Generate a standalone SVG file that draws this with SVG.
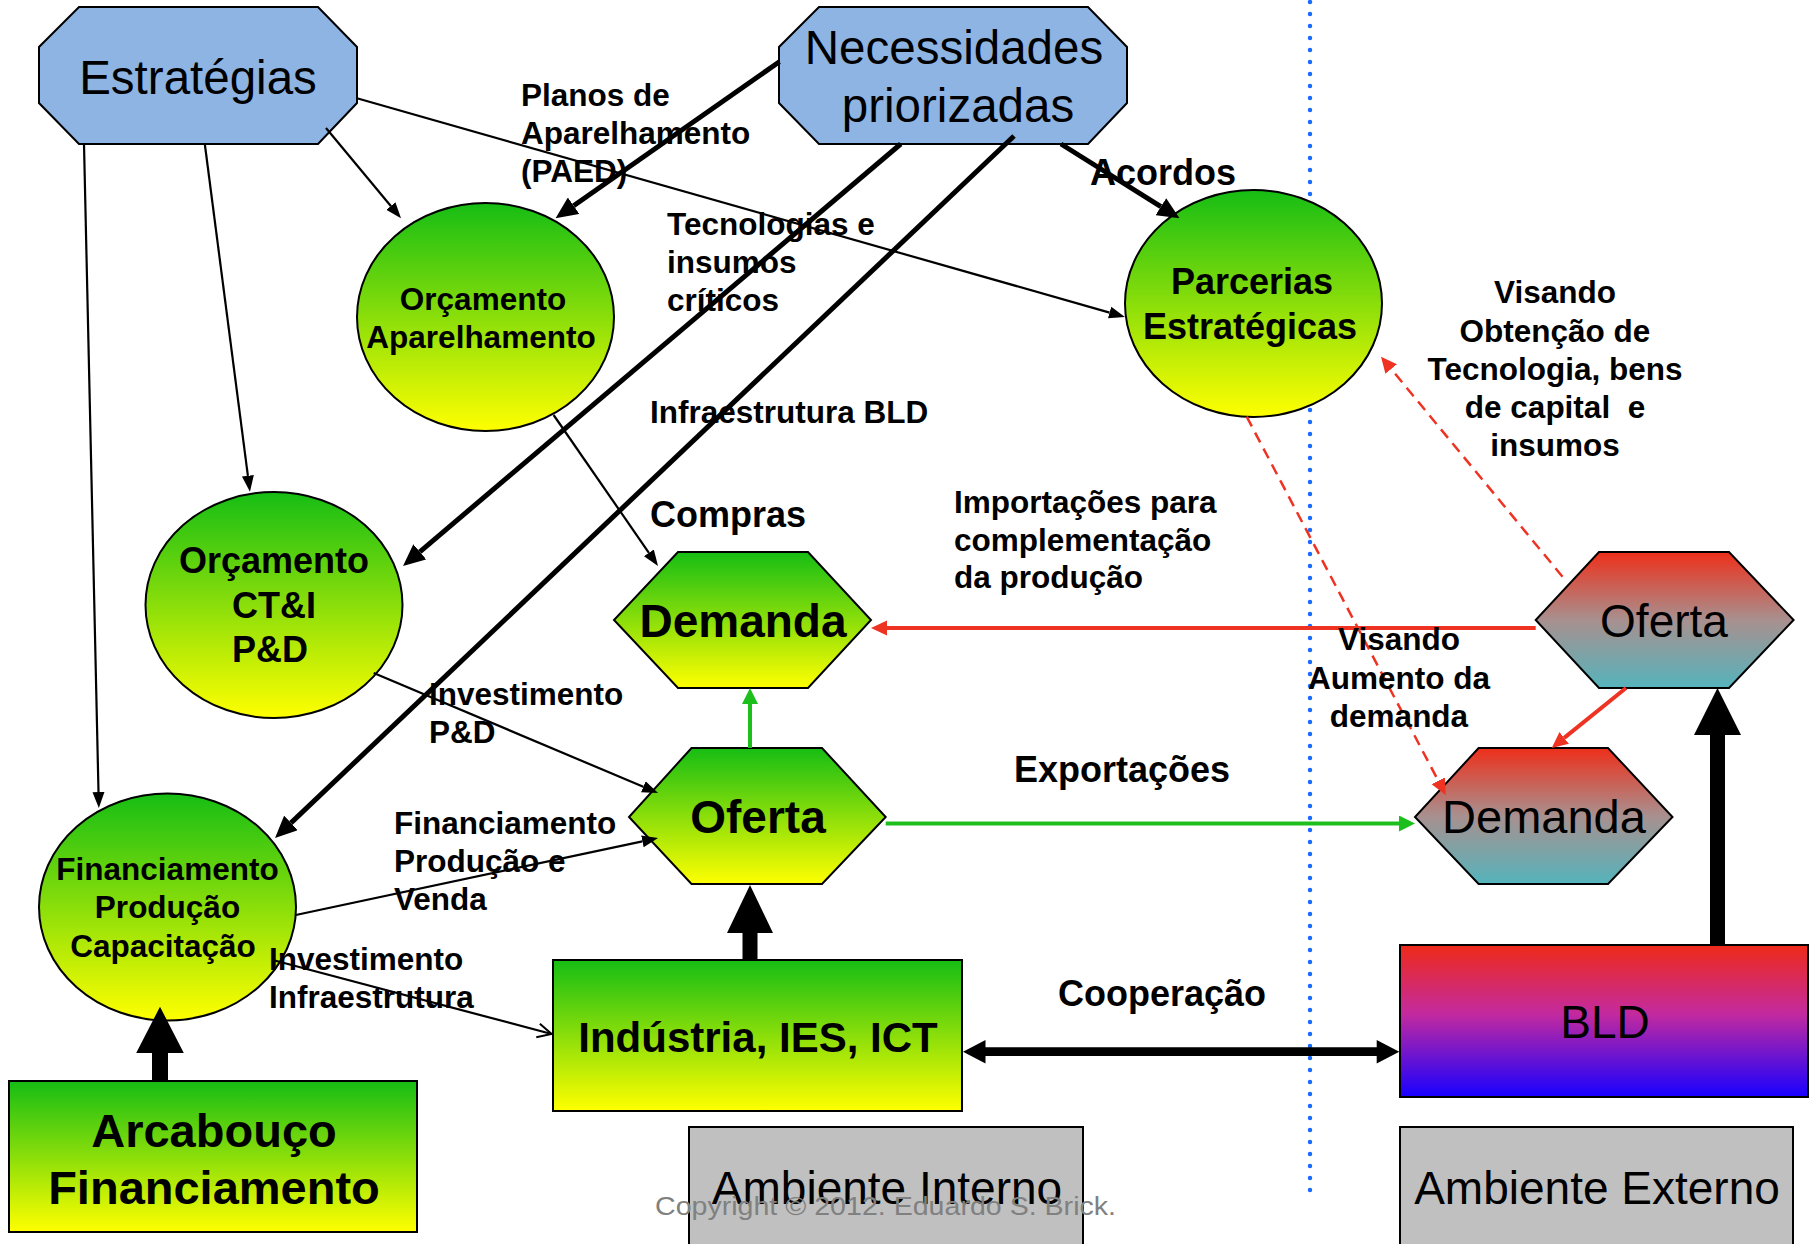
<svg xmlns="http://www.w3.org/2000/svg" width="1810" height="1244" viewBox="0 0 1810 1244">
  <defs>
    <style>
      .shape { stroke: #000; stroke-width: 2; }
      .txt { font-family: "Liberation Sans", Arial, sans-serif; fill: #000; }
      .b { font-weight: bold; }
      .mid { text-anchor: middle; }
      .lbl { font-family: "Liberation Sans", Arial, sans-serif; font-weight: bold; font-size: 31.5px; fill: #000; }
      .lbl.big { font-size: 36px; }
      .thin { fill: none; stroke: #000; stroke-width: 2.2; }
      .thick { fill: none; stroke: #000; stroke-width: 5; }
      .red { fill: none; stroke: #EE3322; stroke-width: 4; }
      .redDash { fill: none; stroke: #EE3322; stroke-width: 2.5; stroke-dasharray: 11 7; }
      .green { fill: none; stroke: #1DBF1D; stroke-width: 4; }
    </style>
    <linearGradient id="gGreenYellow" x1="0" y1="0" x2="0" y2="1">
      <stop offset="0" stop-color="#16BD14"/>
      <stop offset="1" stop-color="#FFFF00"/>
    </linearGradient>
    <linearGradient id="gRedTeal" x1="0" y1="0" x2="0" y2="1">
      <stop offset="0" stop-color="#EE2F1A"/>
      <stop offset="0.5" stop-color="#A8908F"/>
      <stop offset="1" stop-color="#55B4BC"/>
    </linearGradient>
    <linearGradient id="gBld" x1="0" y1="0" x2="0" y2="1">
      <stop offset="0" stop-color="#EE2A18"/>
      <stop offset="0.45" stop-color="#C42A9E"/>
      <stop offset="1" stop-color="#1800FF"/>
    </linearGradient>
    <marker id="mThin" markerUnits="userSpaceOnUse" viewBox="0 -7 16 14" refX="0" refY="0" markerWidth="16" markerHeight="14" orient="auto">
      <path d="M0,-6 L16,0 L0,6 z" fill="#000"/>
    </marker>
    <marker id="mThick" markerUnits="userSpaceOnUse" viewBox="0 -10 22 20" refX="0" refY="0" markerWidth="22" markerHeight="20" orient="auto">
      <path d="M0,-10 L22,0 L0,10 z" fill="#000"/>
    </marker>
    <marker id="mRed" markerUnits="userSpaceOnUse" viewBox="0 -8 16 16" refX="0" refY="0" markerWidth="16" markerHeight="16" orient="auto">
      <path d="M0,-7.5 L16,0 L0,7.5 z" fill="#EE3322"/>
    </marker>
    <marker id="mGreen" markerUnits="userSpaceOnUse" viewBox="0 -8 16 16" refX="0" refY="0" markerWidth="16" markerHeight="16" orient="auto">
      <path d="M0,-8 L16,0 L0,8 z" fill="#1DBF1D"/>
    </marker>
    <marker id="mOpen" markerUnits="userSpaceOnUse" viewBox="-16 -10 18 20" refX="0" refY="0" markerWidth="18" markerHeight="20" orient="auto">
      <path d="M-14,-7 L0,0 L-14,7" fill="none" stroke="#000" stroke-width="2"/>
    </marker>
  </defs>

  <rect x="0" y="0" width="1810" height="1244" fill="#fff"/>

  <!-- boundary between internal and external environment -->
  <line id="boundary" x1="1310" y1="2" x2="1310" y2="1202" stroke="#1A6BFF" stroke-width="4.5" stroke-linecap="round" stroke-dasharray="0 12"/>

  <!-- nodes -->
  <g id="estrategias">
    <polygon class="shape" fill="#8EB4E3" points="79,7 318,7 357,47 357,103 318,144 79,144 39,103 39,47"/>
    <text class="txt mid" x="198" y="94" font-size="47.5">Estratégias</text>
  </g>
  <g id="necessidades">
    <polygon class="shape" fill="#8EB4E3" points="819,7 1088,7 1127,47 1127,103 1088,144 819,144 779,103 779,47"/>
    <text class="txt mid" x="954" y="64" font-size="47.5">Necessidades</text>
    <text class="txt mid" x="958" y="122" font-size="47.5">priorizadas</text>
  </g>
  <g id="orcamento-aparelhamento">
    <ellipse class="shape" fill="url(#gGreenYellow)" cx="485.5" cy="317" rx="128.5" ry="114"/>
    <text class="txt b mid" x="483" y="310" font-size="31.5">Orçamento</text>
    <text class="txt b mid" x="481" y="348" font-size="31.5">Aparelhamento</text>
  </g>
  <g id="parcerias">
    <ellipse class="shape" fill="url(#gGreenYellow)" cx="1253.5" cy="303.5" rx="128.5" ry="113.5"/>
    <text class="txt b mid" x="1252" y="294" font-size="36">Parcerias</text>
    <text class="txt b mid" x="1250" y="339" font-size="36">Estratégicas</text>
  </g>
  <g id="orcamento-cti">
    <ellipse class="shape" fill="url(#gGreenYellow)" cx="274" cy="605" rx="128.5" ry="113"/>
    <text class="txt b mid" x="274" y="573" font-size="36">Orçamento</text>
    <text class="txt b mid" x="274" y="618" font-size="36">CT&amp;I</text>
    <text class="txt b mid" x="270" y="662" font-size="36">P&amp;D</text>
  </g>
  <g id="financiamento-producao">
    <ellipse class="shape" fill="url(#gGreenYellow)" cx="167.5" cy="907" rx="128.5" ry="113.5"/>
    <text class="txt b mid" x="167.5" y="880" font-size="31.5">Financiamento</text>
    <text class="txt b mid" x="167.5" y="918" font-size="31.5">Produção</text>
    <text class="txt b mid" x="163" y="957" font-size="31.5">Capacitação</text>
  </g>
  <g id="demanda-interna">
    <polygon class="shape" fill="url(#gGreenYellow)" points="678,552 808,552 871,620 808,688 678,688 614,620"/>
    <text class="txt b mid" x="743" y="637" font-size="46">Demanda</text>
  </g>
  <g id="oferta-interna">
    <polygon class="shape" fill="url(#gGreenYellow)" points="691.5,748 822,748 885.7,817 822,884 691.5,884 629,817"/>
    <text class="txt b mid" x="758" y="833" font-size="46">Oferta</text>
  </g>
  <g id="oferta-externa">
    <polygon class="shape" fill="url(#gRedTeal)" points="1599,552 1729,552 1793.6,620 1729,688 1599,688 1535.7,620"/>
    <text class="txt mid" x="1664" y="637" font-size="46">Oferta</text>
  </g>
  <g id="demanda-externa">
    <polygon class="shape" fill="url(#gRedTeal)" points="1478.6,748 1608,748 1672.5,817 1608,884 1478.6,884 1415,817"/>
    <text class="txt mid" x="1544" y="833" font-size="47">Demanda</text>
  </g>
  <g id="industria">
    <rect class="shape" fill="url(#gGreenYellow)" x="553" y="960" width="409" height="151"/>
    <text class="txt b mid" x="758" y="1052" font-size="42">Indústria, IES, ICT</text>
  </g>
  <g id="bld">
    <rect class="shape" fill="url(#gBld)" x="1400" y="945" width="408" height="152"/>
    <text class="txt mid" x="1605" y="1038" font-size="46">BLD</text>
  </g>
  <g id="arcabouco">
    <rect class="shape" fill="url(#gGreenYellow)" x="9" y="1081" width="408" height="151"/>
    <text class="txt b mid" x="214" y="1147" font-size="47">Arcabouço</text>
    <text class="txt b mid" x="214" y="1204" font-size="47">Financiamento</text>
  </g>
  <g id="ambiente-interno">
    <rect class="shape" fill="#C0C0C0" x="689" y="1127" width="394" height="130"/>
    <text class="txt mid" x="887" y="1204" font-size="46">Ambiente Interno</text>
  </g>
  <g id="ambiente-externo">
    <rect class="shape" fill="#C0C0C0" x="1400" y="1127" width="393" height="130"/>
    <text class="txt mid" x="1597" y="1204" font-size="46">Ambiente Externo</text>
  </g>

  <!-- connectors -->
  <g id="connectors">
    <path class="thin" d="M326,128 L390.8,206" marker-end="url(#mThin)"/>
    <path class="thin" d="M357,98.3 L1109.6,312.6" marker-end="url(#mThin)"/>
    <path class="thin" d="M204.8,144 L247.9,475.8" marker-end="url(#mThin)"/>
    <path class="thin" d="M84,144 L98.5,792" marker-end="url(#mThin)"/>
    <path class="thin" d="M553.6,415 L648.9,552.8" marker-end="url(#mThin)"/>
    <path class="thin" d="M373.7,673 L643.3,786.8" marker-end="url(#mThin)"/>
    <path class="thin" d="M295.8,915 L642.4,841.3" marker-end="url(#mThin)"/>
    <path class="thin" d="M272.8,960 L551.6,1034" marker-end="url(#mOpen)"/>

    <path class="thick" d="M779.4,61.7 L573.6,205.7" marker-end="url(#mThick)"/>
    <path class="thick" d="M900.7,144 L419.8,551.8" marker-end="url(#mThick)"/>
    <path class="thick" d="M1014,136 L291,822.9" marker-end="url(#mThick)"/>
    <path class="thick" d="M1061,144 L1160.9,206.6" marker-end="url(#mThick)"/>

    <path class="red" d="M1535.7,628 L887,628" marker-end="url(#mRed)"/>
    <path class="red" d="M1626,688 L1564.2,737.9" marker-end="url(#mRed)"/>
    <path class="redDash" d="M1246.7,416.7 L1438.3,780.8" marker-end="url(#mRed)"/>
    <path class="redDash" d="M1562.5,576.7 L1391.2,369" marker-end="url(#mRed)"/>

    <path class="green" d="M750,748 L750,704" marker-end="url(#mGreen)"/>
    <path class="green" d="M885.7,823.5 L1399,823.5" marker-end="url(#mGreen)"/>

    <polygon fill="#000" points="742.5,960 742.5,933 727,933 750,885 773,933 757.5,933 757.5,960"/>
    <polygon fill="#000" points="1710,945 1710,735 1694,735 1717.5,688 1741,735 1725,735 1725,945"/>
    <polygon fill="#000" points="152,1081 152,1053 136.2,1053 160,1006.7 183.8,1053 168,1053 168,1081"/>
    <polygon fill="#000" points="963,1051.7 985.5,1040 985.5,1047.3 1376.7,1047.3 1376.7,1040 1399.3,1051.7 1376.7,1063.4 1376.7,1056.1 985.5,1056.1 985.5,1063.4"/>
  </g>

  <!-- connector labels -->
  <g id="labels">
    <text class="lbl" x="521" y="106">Planos de</text>
    <text class="lbl" x="521" y="144">Aparelhamento</text>
    <text class="lbl" x="521" y="182">(PAED)</text>
    <text class="lbl" x="667" y="235">Tecnologias e</text>
    <text class="lbl" x="667" y="273">insumos</text>
    <text class="lbl" x="667" y="311">críticos</text>
    <text class="lbl" x="650" y="423">Infraestrutura BLD</text>
    <text class="lbl big" x="650" y="527">Compras</text>
    <text class="lbl big" x="1090" y="185">Acordos</text>
    <text class="lbl" x="954" y="513">Importações para</text>
    <text class="lbl" x="954" y="551">complementação</text>
    <text class="lbl" x="954" y="588">da produção</text>
    <text class="lbl" x="429" y="705">Investimento</text>
    <text class="lbl" x="429" y="743">P&amp;D</text>
    <text class="lbl" x="394" y="834">Financiamento</text>
    <text class="lbl" x="394" y="872">Produção e</text>
    <text class="lbl" x="394" y="910">Venda</text>
    <text class="lbl" x="269" y="970">Investimento</text>
    <text class="lbl" x="269" y="1008">Infraestrutura</text>
    <text class="lbl big mid" x="1122" y="782">Exportações</text>
    <text class="lbl big" x="1058" y="1006">Cooperação</text>
    <text class="lbl mid" x="1555" y="303">Visando</text>
    <text class="lbl mid" x="1555" y="342">Obtenção de</text>
    <text class="lbl mid" x="1555" y="380">Tecnologia, bens</text>
    <text class="lbl mid" x="1555" y="418" xml:space="preserve" style="white-space:pre">de capital  e</text>
    <text class="lbl mid" x="1555" y="456">insumos</text>
    <text class="lbl mid" x="1399" y="650">Visando</text>
    <text class="lbl mid" x="1399" y="689">Aumento da</text>
    <text class="lbl mid" x="1399" y="727">demanda</text>
  </g>

  <text id="copyright" x="655" y="1215" font-family="'Liberation Sans Narrow', 'Liberation Sans', sans-serif" font-size="26" fill="#808080" textLength="461" lengthAdjust="spacingAndGlyphs">Copyright © 2012. Eduardo S. Brick.</text>
</svg>
